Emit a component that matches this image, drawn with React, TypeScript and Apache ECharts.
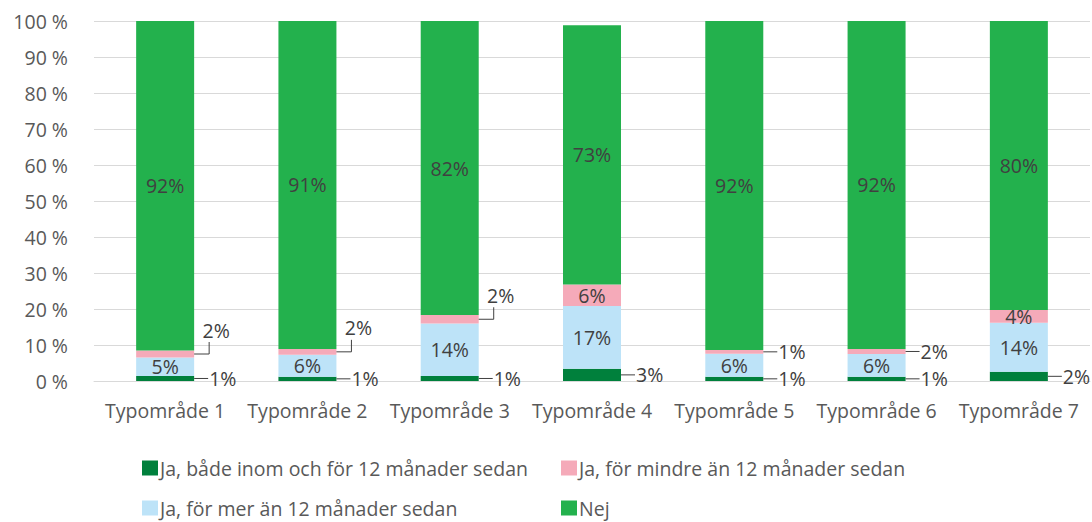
import React, { useEffect, useRef } from "react";
import * as echarts from "echarts";

const categories = ["Typområde 1", "Typområde 2", "Typområde 3", "Typområde 4", "Typområde 5", "Typområde 6", "Typområde 7"];
const seriesNames = [
  "Ja, både inom och för 12 månader sedan",
  "Ja, för mer än 12 månader sedan",
  "Ja, för mindre än 12 månader sedan",
  "Nej",
];
// segment sizes (%)
const jaBada = [1.4, 1.2, 1.4, 3.4, 1.2, 1.2, 2.6];
const jaMer = [5.1, 6.1, 14.6, 17.4, 6.4, 6.3, 13.6];
const jaMindre = [2.0, 1.6, 2.3, 6.0, 1.0, 1.4, 3.5];
const nej = [91.5, 91.1, 81.7, 72.0, 91.4, 91.1, 80.3];
// data labels as printed in the chart
const jaBadaLabels = [1, 1, 1, 3, 1, 1, 2];
const jaMerLabels = [5, 6, 14, 17, 6, 6, 14];
const jaMindreLabels = [2, 2, 2, 6, 1, 2, 4];
const nejLabels = [92, 91, 82, 73, 92, 92, 80];
const yTicks = [0, 10, 20, 30, 40, 50, 60, 70, 80, 90, 100];
// label placement for the pink segment
const mindreLabelMode = ["bent", "bent", "bent", "inside", "right", "right", "inside"];

const colors = ["#00803c", "#bde3f8", "#f5aab9", "#23b14d"];
const FONT = '"Open Sans", "Noto Sans", sans-serif';
const FS = 19.5;
const BAR_W = 58;
const LABEL_COLOR = "#404040";
const AXIS_COLOR = "#595959";

export default function App() {
  const ref = useRef<HTMLDivElement>(null);
  useEffect(() => {
    document.body.style.margin = "0";
    const chart = echarts.init(ref.current!, undefined, { renderer: "svg" });

    type Spec = { text: string; mode: string };
    const outData: number[][] = [];
    const outSpecs: Spec[] = [];
    categories.forEach((_, i) => {
      outData.push([i, jaBada[i] / 2]);
      outSpecs.push({ text: jaBadaLabels[i] + "%", mode: "right" });
      if (mindreLabelMode[i] !== "inside") {
        outData.push([i, jaBada[i] + jaMer[i] + jaMindre[i] / 2]);
        outSpecs.push({ text: jaMindreLabels[i] + "%", mode: mindreLabelMode[i] });
      }
    });

    const labelStyle = { color: LABEL_COLOR, fontSize: FS, fontFamily: FONT };
    const legendBase = {
      orient: "horizontal",
      itemWidth: 16,
      itemHeight: 15,
      icon: "rect",
      textStyle: { color: AXIS_COLOR, fontSize: FS, fontFamily: FONT, lineHeight: 15, padding: [0, 0, 0, -3] },
    };
    const legendPos = [
      { left: 137, top: 453 },
      { left: 137, top: 493 },
      { left: 556, top: 453 },
      { left: 556, top: 493 },
    ];

    chart.setOption({
      animation: false,
      textStyle: { fontFamily: FONT },
      grid: { left: 94, right: 2, top: 21, bottom: 141, containLabel: false },
      legend: seriesNames.map((n, i) => ({ ...legendBase, ...legendPos[i], data: [n] })),
      xAxis: {
        type: "category",
        data: categories,
        axisLine: { show: true, lineStyle: { color: "#d9d9d9" } },
        axisTick: { show: false },
        axisLabel: { color: AXIS_COLOR, fontSize: FS, fontFamily: FONT, margin: 19, interval: 0 },
      },
      yAxis: {
        type: "value",
        min: yTicks[0],
        max: yTicks[yTicks.length - 1],
        interval: 10,
        axisLine: { show: false },
        axisTick: { show: false },
        axisLabel: { color: AXIS_COLOR, fontSize: FS, fontFamily: FONT, margin: 26, formatter: "{value} %" },
        splitLine: { lineStyle: { color: "#d9d9d9", width: 1 } },
      },
      series: [
        {
          name: seriesNames[0],
          type: "bar",
          stack: "s",
          barWidth: BAR_W,
          itemStyle: { color: colors[0] },
          data: jaBada,
          label: { show: false },
        },
        {
          name: seriesNames[1],
          type: "bar",
          stack: "s",
          barWidth: BAR_W,
          itemStyle: { color: colors[1] },
          data: jaMer,
          label: {
            show: true,
            position: "inside",
            formatter: (p: any) => jaMerLabels[p.dataIndex] + "%",
            ...labelStyle,
          },
        },
        {
          name: seriesNames[2],
          type: "bar",
          stack: "s",
          barWidth: BAR_W,
          itemStyle: { color: colors[2] },
          data: jaMindre.map((v, i) => ({ value: v, label: { show: mindreLabelMode[i] === "inside" } })),
          label: {
            position: "inside",
            formatter: (p: any) => jaMindreLabels[p.dataIndex] + "%",
            ...labelStyle,
          },
        },
        {
          name: seriesNames[3],
          type: "bar",
          stack: "s",
          barWidth: BAR_W,
          itemStyle: { color: colors[3] },
          data: nej,
          label: {
            show: true,
            position: "inside",
            formatter: (p: any) => nejLabels[p.dataIndex] + "%",
            ...labelStyle,
          },
        },
        {
          type: "custom",
          silent: true,
          z: 10,
          encode: { x: 0, y: 1 },
          data: outData,
          renderItem: (params: any, api: any) => {
            const spec = outSpecs[params.dataIndex];
            const [x, y] = api.coord([api.value(0), api.value(1)]);
            const edge = x + BAR_W / 2;
            const lineStyle = { stroke: LABEL_COLOR, lineWidth: 1, fill: "none" };
            const textFont = `${FS}px ${FONT}`;
            if (spec.mode === "bent") {
              return {
                type: "group",
                children: [
                  {
                    type: "polyline",
                    shape: { points: [[edge, y], [edge + 15, y], [edge + 15, y - 12]] },
                    style: lineStyle,
                  },
                  {
                    type: "text",
                    style: {
                      text: spec.text,
                      x: edge + 22,
                      y: y - 24,
                      align: "center",
                      verticalAlign: "middle",
                      fill: LABEL_COLOR,
                      font: textFont,
                    },
                  },
                ],
              };
            }
            return {
              type: "group",
              children: [
                {
                  type: "line",
                  shape: { x1: edge, y1: y, x2: edge + 14, y2: y },
                  style: lineStyle,
                },
                {
                  type: "text",
                  style: {
                    text: spec.text,
                    x: edge + 15,
                    y: y,
                    align: "left",
                    verticalAlign: "middle",
                    fill: LABEL_COLOR,
                    font: textFont,
                  },
                },
              ],
            };
          },
        },
      ],
    });
    return () => chart.dispose();
  }, []);
  return <div ref={ref} style={{ width: 1092, height: 522 }} />;
}
